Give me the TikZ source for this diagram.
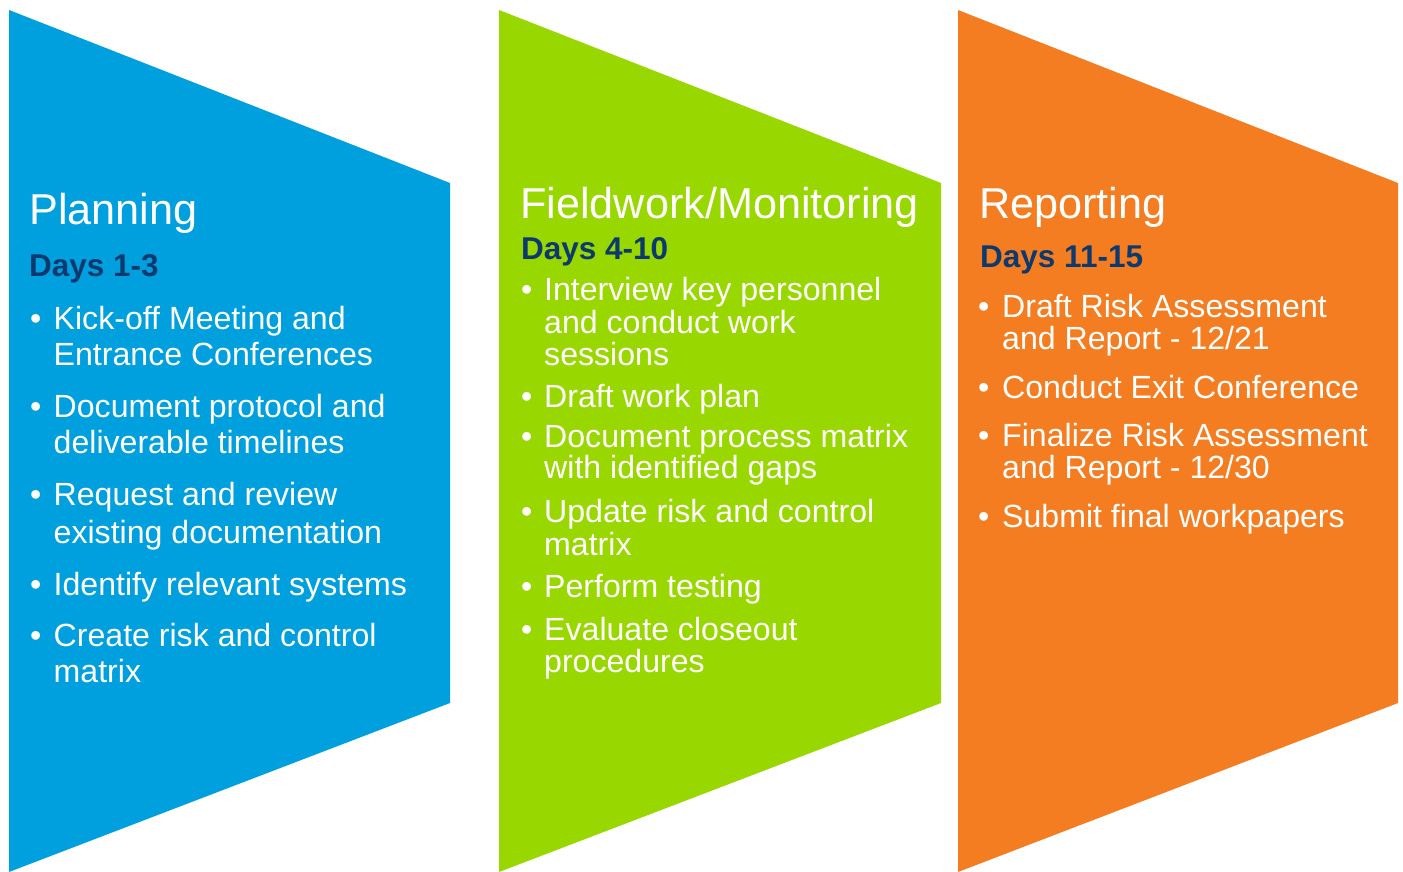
\documentclass[tikz,border=0pt]{standalone}
\usepackage{fontspec}
\setmainfont{Liberation Sans}
\definecolor{cblue}{RGB}{0,160,223}
\definecolor{cgreen}{RGB}{153,215,0}
\definecolor{corange}{RGB}{244,125,34}
\definecolor{cnavy}{RGB}{12,58,110}
\tikzset{
  ttl/.style={anchor=base west,inner sep=0pt,text=white,font=\fontsize{43.2}{43.2}\selectfont},
  days/.style={anchor=base west,inner sep=0pt,text=cnavy,font=\fontsize{31.5}{31.5}\selectfont\bfseries},
  txt/.style={anchor=base west,inner sep=0pt,text=white,font=\fontsize{32.1}{32.1}\selectfont},
  bul/.style={anchor=base west,inner sep=0pt,text=white,font=\fontsize{32.1}{32.1}\selectfont},
}
\begin{document}
\begin{tikzpicture}[x=1pt,y=-1pt]
\useasboundingbox (0,0) rectangle (1403,872);
% panels
\fill[cblue] (9,10) -- (450,183) -- (450,703) -- (9,872) -- cycle;
\fill[cgreen] (499,10) -- (941,183) -- (941,703) -- (499,872) -- cycle;
\fill[corange] (958,10) -- (1398,183) -- (1398,703) -- (958,872) -- cycle;
% ---- Planning
\node[ttl] (t1) at (29,224) {Planning};
\node[days] (d1) at (29,276) {Days 1-3};
\node[bul] (b11) at (30,329) {•};
\node[txt] (l11) at (53.5,329) {Kick-off Meeting and};
\node[txt] (l12) at (53.5,365) {Entrance Conferences};
\node[bul] (b12) at (30,417) {•};
\node[txt] (l13) at (53.5,417) {Document protocol and};
\node[txt] (l14) at (53.5,453) {deliverable timelines};
\node[bul] (b13) at (30,505) {•};
\node[txt] (l15) at (53.5,505) {Request and review};
\node[txt] (l16) at (53.5,543) {existing documentation};
\node[bul] (b14) at (30,595) {•};
\node[txt] (l17) at (53.5,595) {Identify relevant systems};
\node[bul] (b15) at (30,646) {•};
\node[txt] (l18) at (53.5,646) {Create risk and control};
\node[txt] (l19) at (53.5,682) {matrix};
% ---- Fieldwork
\node[ttl] (t2) at (520,218) {Fieldwork/Monitoring};
\node[days] (d2) at (521,259) {Days 4-10};
\node[bul] (b21) at (521,300) {•};
\node[txt] (l21) at (544,300) {Interview key personnel};
\node[txt] (l22) at (544,333) {and conduct work};
\node[txt] (l23) at (544,365) {sessions};
\node[bul] (b22) at (521,407) {•};
\node[txt] (l24) at (544,407) {Draft work plan};
\node[bul] (b23) at (521,447) {•};
\node[txt] (l25) at (544,447) {Document process matrix};
\node[txt] (l26) at (544,478) {with identified gaps};
\node[bul] (b24) at (521,522) {•};
\node[txt] (l27) at (544,522) {Update risk and control};
\node[txt] (l28) at (544,555) {matrix};
\node[bul] (b25) at (521,597) {•};
\node[txt] (l29) at (544,597) {Perform testing};
\node[bul] (b26) at (521,640) {•};
\node[txt] (l2a) at (544,640) {Evaluate closeout};
\node[txt] (l2b) at (544,672) {procedures};
% ---- Reporting
\node[ttl] (t3) at (979,218) {Reporting};
\node[days] (d3) at (980,267) {Days 11-15};
\node[bul] (b31) at (978,317) {•};
\node[txt] (l31) at (1002,317) {Draft Risk Assessment};
\node[txt] (l32) at (1002,349) {and Report - 12/21};
\node[bul] (b32) at (978,398) {•};
\node[txt] (l33) at (1002,398) {Conduct Exit Conference};
\node[bul] (b33) at (978,446) {•};
\node[txt] (l34) at (1002,446) {Finalize Risk Assessment};
\node[txt] (l35) at (1002,478) {and Report - 12/30};
\node[bul] (b34) at (978,527) {•};
\node[txt] (l36) at (1002,527) {Submit final workpapers};
\end{tikzpicture}
\end{document}
